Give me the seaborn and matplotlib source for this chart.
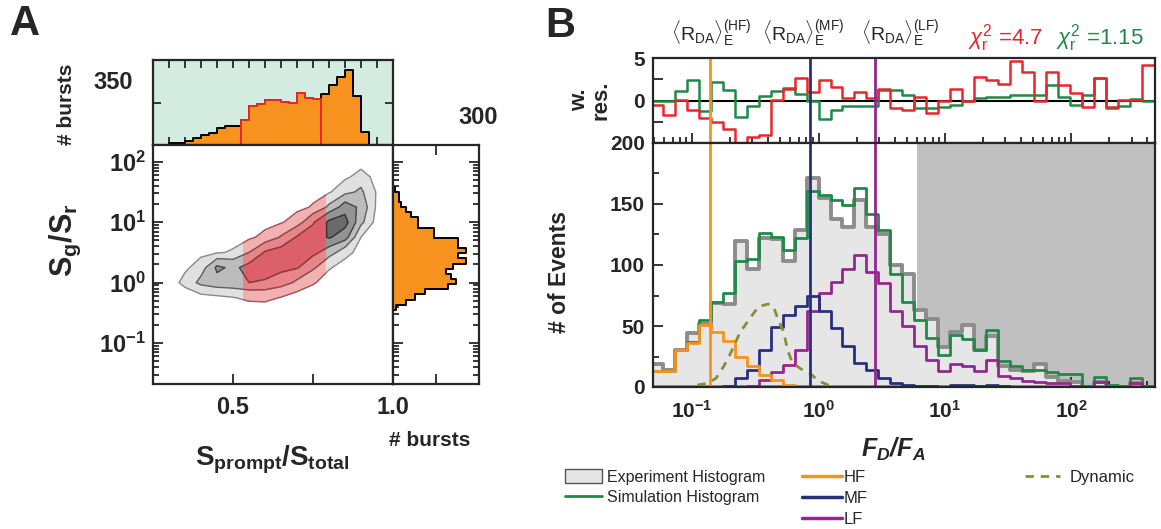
import numpy as np
import matplotlib
matplotlib.use('Agg')
import matplotlib.pyplot as plt
from matplotlib.lines import Line2D
from matplotlib.patches import Patch, Rectangle
from matplotlib.ticker import LogLocator, NullFormatter, FixedLocator, MultipleLocator
import seaborn as sns

sns.set_style('ticks')
plt.rcParams['font.family'] = ['Liberation Sans', 'DejaVu Sans']
plt.rcParams['mathtext.fontset'] = 'custom'
plt.rcParams['mathtext.rm'] = 'Liberation Sans'
plt.rcParams['mathtext.it'] = 'Liberation Sans:italic'
plt.rcParams['mathtext.bf'] = 'Liberation Sans:bold'
plt.rcParams['mathtext.bfit'] = 'Liberation Sans:italic:bold'
plt.rcParams['axes.linewidth'] = 1.6

# ---------------- panel A data ----------------
# S_prompt/S_total histogram (top margin), 0.025 wide bins
sp_edges = np.round(np.arange(0.25, 1.0001, 0.025), 3)
sp_counts = [0, 0, 8, 8, 17, 33, 45, 56, 80, 88, 91, 119, 182, 193, 210,
             212, 203, 200, 243, 222, 218, 242, 283, 320, 353, 232, 60, 0, 0, 0]
sel_range = (0.525, 0.775)      # selected sub-population (red)
red_window = (0.53, 0.79)

# S_g/S_r histogram (right margin), log10 bin edges
sgsr_log_edges = np.linspace(-0.45, 1.59, 25)
sgsr_counts = [12, 45, 75, 110, 191, 220, 202, 185, 208, 255, 226, 255,
               226, 226, 144, 144, 86, 86, 63, 45, 28, 22, 22, 8]

# burst density (rows: log10 Sg/Sr, cols: Sprompt/Stotal)
grid_sx = [0.30, 0.35, 0.40, 0.45, 0.50, 0.55, 0.60, 0.65, 0.70, 0.75, 0.80, 0.85, 0.90, 0.95]
grid_ly = [-0.5, -0.25, 0.0, 0.25, 0.5, 0.75, 1.0, 1.25, 1.5, 1.75, 2.0]
density_rows = [
    [0, 0, 0, 0, 0, 0, 0, 0, 0, 0, 0, 0, 0, 0],
    [0, 0, 0.2, 0.3, 0.45, 0.7, 0.75, 0.45, 0.1, 0, 0, 0, 0, 0],
    [0, 0.8, 1.8, 2.2, 2.3, 2.5, 2.4, 2.0, 1.3, 0.6, 0.1, 0, 0, 0],
    [0, 0.3, 1.0, 2.7, 2.3, 2.8, 3.0, 2.8, 2.6, 1.7, 0.6, 0.1, 0, 0],
    [0, 0, 0.2, 0.4, 0.6, 1.5, 2.6, 2.9, 3.0, 2.8, 2.0, 0.9, 0.1, 0],
    [0, 0, 0, 0, 0.1, 0.3, 0.8, 1.6, 2.6, 2.9, 3.6, 3.0, 0.5, 0],
    [0, 0, 0, 0, 0, 0, 0.1, 0.4, 1.0, 2.4, 3.7, 3.9, 1.8, 0.1],
    [0, 0, 0, 0, 0, 0, 0, 0, 0.2, 0.6, 1.7, 3.0, 2.3, 0.3],
    [0, 0, 0, 0, 0, 0, 0, 0, 0, 0.1, 0.4, 1.2, 1.7, 0.4],
    [0, 0, 0, 0, 0, 0, 0, 0, 0, 0, 0, 0.3, 0.9, 0.2],
    [0, 0, 0, 0, 0, 0, 0, 0, 0, 0, 0, 0, 0, 0],
]
dens_levels = [0.5, 1.5, 2.5, 3.5, 5]

# ---------------- panel B data ----------------
fd_log_edges = np.linspace(-1.328, 2.656, 43)   # 42 log bins of F_D/F_A
exp_counts = [19, 14, 30, 44, 52, 69, 68, 120, 97, 122, 121, 103, 129, 171,
              155, 138, 131, 153, 131, 125, 100, 93, 63, 56, 33, 45, 51, 30,
              42, 17, 14, 13, 19, 8, 5, 4, 0, 4, 1, 0, 3, 0]
sim_counts = [13, 13, 30, 37, 55, 70, 77, 103, 105, 126, 123, 112, 122, 161,
              157, 153, 149, 163, 142, 129, 93, 70, 55, 40, 26, 43, 39, 30,
              47, 21, 17, 14, 14, 12, 11, 11, 1, 8, 2, 1, 7, 1]
hf_counts = [13, 13, 30, 36, 51, 45, 38, 25, 17, 10, 6, 2, 0, 0, 0, 0, 0, 0,
             0, 0, 0, 0, 0, 0, 0, 0, 0, 0, 0, 0, 0, 0, 0, 0, 0, 0, 0, 0, 0, 0, 0, 0]
mf_counts = [0, 0, 0, 0, 0, 0, 1, 7, 14, 30, 49, 59, 66, 75, 62, 48, 34, 20,
             14, 7, 3, 2, 1, 1, 0, 2, 2, 1, 2, 1, 0, 0, 0, 0, 0, 0, 0, 0, 0, 0, 0, 0]
lf_counts = [0, 0, 0, 0, 0, 0, 0, 0, 1, 6, 12, 18, 30, 62, 77, 86, 97, 108,
             94, 85, 62, 50, 34, 22, 13, 19, 17, 13, 22, 9, 7, 5, 4, 3, 3, 1,
             0, 4, 0, 0, 3, 0]
res_red = [-0.5, -1.7, 0.06, -1.1, -2.1, -2.5, -3.3, -6.5, -4.3, -4.1,
           0.06, 1.4, 2.6, 1.0, 2.4, 1.6, 0.26, 1.0, 0.26, 1.4,
           -0.9, -1.1, 0.45, -1.5, 0.0, 1.4, 0.0, 2.8, 2.4, 2.0,
           4.7, 3.4, 0.0, 3.4, 1.8, 0.9, -0.8, 2.6, -0.8, 0.1, 0.1, 4.2]
res_green = [0, 0, 1.15, 2.4, -1.2, 2.2, 1.24, -1.9, -0.65, 0.5,
             1.15, 1.43, 0.76, -0.1, -2.2, -1.1, -0.7, -0.6, -0.6, 1.2,
             1.2, 0.65, -0.9, -0.9, -0.8, -0.5, -0.1, 0.3, 0.45, 0.45,
             0.65, 0.65, 0.65, 1.8, 0.4, -0.5, 0.6, 2.7, -0.9, -0.7, 0.2, 0.0]
dyn_x = [0.11, 0.13, 0.154, 0.178, 0.20, 0.24, 0.29, 0.335, 0.40, 0.44,
         0.48, 0.53, 0.57, 0.62, 0.72, 0.86, 1.0, 1.3]
dyn_y = [1.6, 3, 7, 17, 27, 45, 57, 66, 68, 66, 55, 45, 30, 20, 15, 11, 5, 0]
rda_pos = {'HF': 0.139, 'MF': 0.857, 'LF': 2.8}
shade_start = 6.0
chi_red, chi_green = '4.7', '1.15'

# colours
ORANGE = '#f7921e'
NAVY = '#28307e'
PURPLE = '#93278f'
GREEN = '#1f8a47'
RED = '#e8262c'
OLIVE = '#8a8c3a'
EXP_FILL = '#e6e6e6'
EXP_EDGE = '#8c8c8c'

W, H = 1161, 529


def fx(px):
    return px / W


def fy(py):
    return 1 - py / H


def box(x0, y0, x1, y1):
    return [fx(x0), fy(y1), (x1 - x0) / W, (y1 - y0) / H]


def bold_labels(labels):
    return [r'$\mathbf{%s}$' % s if s else '' for s in labels]


fig = plt.figure(figsize=(W / 100, H / 100), dpi=100)
ax_top = fig.add_axes(box(153, 60, 393, 145))
ax_2d = fig.add_axes(box(153, 145, 393, 384))
ax_side = fig.add_axes(box(393, 145, 479, 384))
ax_res = fig.add_axes(box(653, 58, 1155, 143))
ax_b = fig.add_axes(box(653, 143, 1155, 387))

# ---------- A: top histogram ----------
sp_centers = (sp_edges[:-1] + sp_edges[1:]) / 2
sns.histplot(x=sp_centers, weights=sp_counts, bins=list(sp_edges), element='step',
             fill=True, color=ORANGE, edgecolor='black', linewidth=1.4, alpha=1, ax=ax_top)
sel = (sp_edges[:-1] >= sel_range[0] - 1e-9) & (sp_edges[1:] <= sel_range[1] + 1e-9)
sel_edges = sp_edges[np.r_[sel, False] | np.r_[False, sel]]
sns.histplot(x=sp_centers[sel], weights=np.array(sp_counts)[sel], bins=list(sel_edges),
             element='step', fill=True, color=ORANGE, edgecolor=RED, linewidth=1.4,
             alpha=1, ax=ax_top)
ax_top.set_facecolor('#d4ebdf')
ax_top.set_xlim(0.25, 1.0)
ax_top.set_ylim(0, 400)
ax_top.set_xlabel('')
ax_top.set_ylabel('')
ax_top.xaxis.set_major_locator(MultipleLocator(0.05))
ax_top.yaxis.set_major_locator(FixedLocator([200]))
ax_top.tick_params(which='both', direction='in', top=True, right=True, length=6,
                   width=1.3, labelbottom=False, labelleft=False)

# ---------- A: 2D density ----------
SX, LY = np.meshgrid(grid_sx, grid_ly)
SG = 10 ** LY
Z = np.array(density_rows)
ax_2d.set_yscale('log')
ax_2d.contourf(SX, SG, Z, levels=dens_levels,
               colors=['#e0e0e0', '#bcbcbc', '#939393', '#6a6a6a'])
ax_2d.contour(SX, SG, Z, levels=dens_levels[:-1],
              colors=['#8a8a8a', '#606060', '#454545', '#333333'], linewidths=1.0)
clip = Rectangle((red_window[0], 1e-4), red_window[1] - red_window[0], 1e6,
                 transform=ax_2d.transData)
cr = ax_2d.contourf(SX, SG, Z, levels=dens_levels,
                    colors=['#f6a9a9', '#f07c80', '#e85862', '#d83846'], alpha=0.85)
cr.set_clip_path(clip)
crl = ax_2d.contour(SX, SG, Z, levels=dens_levels[:-1], colors='#c8303c',
                    linewidths=0.8, alpha=0.7)
crl.set_clip_path(clip)
ax_2d.set_xlim(0.25, 1.0)
ax_2d.set_ylim(0.021, 190)
ax_2d.xaxis.set_major_locator(FixedLocator([0.25, 0.5, 0.75, 1.0]))
ax_2d.set_xticklabels(['', '0.5', '', '1.0'], fontweight='bold')
ax_2d.yaxis.set_major_locator(FixedLocator([0.1, 1, 10, 100]))
ax_2d.set_yticklabels(bold_labels(['10^{-1}', '10^{0}', '10^{1}', '10^{2}']))
ax_2d.yaxis.set_minor_locator(LogLocator(base=10, subs=np.arange(2, 10) * 1.0, numticks=20))
ax_2d.yaxis.set_minor_formatter(NullFormatter())
ax_2d.tick_params(which='both', direction='in', width=1.3, labelsize=17)
ax_2d.tick_params(which='major', length=7)
ax_2d.tick_params(which='minor', length=4)
ax_2d.tick_params(axis='x', pad=9)
ax_2d.tick_params(axis='y', pad=5)

# ---------- A: right histogram ----------
sgsr_edges = 10 ** np.array(sgsr_log_edges)
sgsr_centers = np.sqrt(sgsr_edges[:-1] * sgsr_edges[1:])
sns.histplot(y=sgsr_centers, weights=sgsr_counts, bins=list(sgsr_edges), element='step',
             fill=True, color=ORANGE, edgecolor='black', linewidth=1.4, alpha=1, ax=ax_side)
ax_side.set_yscale('log')
ax_side.set_ylim(0.021, 190)
ax_side.set_xlim(0, 300)
ax_side.set_xlabel('')
ax_side.set_ylabel('')
ax_side.xaxis.set_major_locator(FixedLocator([150]))
ax_side.yaxis.set_major_locator(FixedLocator([0.1, 1, 10, 100]))
ax_side.yaxis.set_minor_locator(LogLocator(base=10, subs=np.arange(2, 10) * 1.0, numticks=20))
ax_side.yaxis.set_minor_formatter(NullFormatter())
ax_side.tick_params(which='both', direction='in', top=True, right=True, left=True,
                    width=1.3, labelbottom=False, labelleft=False)
ax_side.tick_params(which='major', length=7)
ax_side.tick_params(which='minor', length=4)

# ---------- B: residuals ----------
fd_edges = 10 ** fd_log_edges
fd_centers = np.sqrt(fd_edges[:-1] * fd_edges[1:])
sns.lineplot(x=fd_edges, y=res_green + [res_green[-1]], drawstyle='steps-post',
             color=GREEN, linewidth=1.8, errorbar=None, ax=ax_res)
sns.lineplot(x=fd_edges, y=res_red + [res_red[-1]], drawstyle='steps-post',
             color=RED, linewidth=1.8, errorbar=None, ax=ax_res)
ax_res.axhline(0, color='black', linewidth=1.5, zorder=1)
ax_res.set_xscale('log')
ax_res.set_xlim(0.049, 460)
ax_res.set_ylim(-5, 5)
ax_res.set_xlabel('')
ax_res.set_ylabel('')
ax_res.yaxis.set_major_locator(FixedLocator([-5, -2.5, 0, 2.5, 5]))
ax_res.set_yticklabels(['', '', '0', '', '5'], fontweight='bold')
ax_res.xaxis.set_major_locator(LogLocator(base=10, numticks=10))
ax_res.xaxis.set_minor_locator(LogLocator(base=10, subs=np.arange(2, 10) * 1.0, numticks=20))
ax_res.xaxis.set_minor_formatter(NullFormatter())
ax_res.tick_params(which='both', direction='in', width=1.3, labelbottom=False,
                   labelsize=15, pad=6)
ax_res.tick_params(which='major', length=7)
ax_res.tick_params(which='minor', length=4)

# ---------- B: histograms ----------
ax_b.axvspan(shade_start, 1000, color='#c0c0c0', zorder=0, linewidth=0)
sns.histplot(x=fd_centers, weights=exp_counts, bins=list(fd_edges), element='step', fill=True,
             color=EXP_FILL, edgecolor=EXP_EDGE, linewidth=2.8, alpha=1, ax=ax_b, zorder=1)
for counts, col in [(sim_counts, GREEN), (lf_counts, PURPLE), (mf_counts, NAVY),
                    (hf_counts, ORANGE)]:
    sns.histplot(x=fd_centers, weights=counts, bins=list(fd_edges), element='step',
                 fill=False, color=col, linewidth=2.0, ax=ax_b, zorder=2)
sns.lineplot(x=dyn_x, y=dyn_y, color=OLIVE, linewidth=2.0, linestyle=(0, (3, 2.5)),
             errorbar=None, ax=ax_b, zorder=2)
for (name, pos), col in zip(rda_pos.items(), [ORANGE, NAVY, PURPLE]):
    ax_b.axvline(pos, color=col, linewidth=2.0, zorder=3)
    ax_res.axvline(pos, color=col, linewidth=2.0, zorder=3)
ax_b.set_xscale('log')
ax_b.set_xlim(0.049, 460)
ax_b.set_ylim(0, 200)
ax_b.set_xlabel('')
ax_b.set_ylabel('')
ax_b.yaxis.set_major_locator(FixedLocator([0, 50, 100, 150, 200]))
ax_b.yaxis.set_minor_locator(MultipleLocator(25))
ax_b.set_yticklabels(['0', '50', '100', '150', '200'], fontweight='bold')
ax_b.xaxis.set_major_locator(FixedLocator([0.1, 1, 10, 100]))
ax_b.set_xticklabels(bold_labels(['10^{-1}', '10^{0}', '10^{1}', '10^{2}']))
ax_b.xaxis.set_minor_locator(LogLocator(base=10, subs=np.arange(2, 10) * 1.0, numticks=20))
ax_b.xaxis.set_minor_formatter(NullFormatter())
ax_b.tick_params(which='both', direction='in', width=1.3, labelsize=15)
ax_b.tick_params(which='major', length=7)
ax_b.tick_params(which='minor', length=4)
ax_b.tick_params(axis='x', pad=9)
ax_b.tick_params(axis='y', pad=6)
for ax in [ax_top, ax_2d, ax_side, ax_res, ax_b]:
    for sp in ax.spines.values():
        sp.set_linewidth(1.6)
        sp.set_zorder(5)

# ---------- text ----------
fig.text(fx(25), fy(24), 'A', fontsize=30, fontweight='bold', ha='center', va='center')
fig.text(fx(560), fy(26), 'B', fontsize=30, fontweight='bold', ha='center', va='center')
fig.text(fx(65), fy(240), r'$\mathbf{S_g/S_r}$', fontsize=22, rotation=90,
         ha='center', va='center')
fig.text(fx(272), fy(460), r'$\mathbf{S_{prompt}/S_{total}}$', fontsize=20,
         ha='center', va='center')
fig.text(fx(67), fy(104), '# bursts', fontsize=15, fontweight='bold', rotation=90,
         ha='center', va='center')
fig.text(fx(113), fy(83), '350', fontsize=17, fontweight='bold', ha='center', va='center')
fig.text(fx(478), fy(117), '300', fontsize=17, fontweight='bold', ha='center', va='center')
fig.text(fx(430), fy(440), '# bursts', fontsize=15, fontweight='bold', ha='center',
         va='center')
fig.text(fx(560), fy(272), '# of Events', fontsize=16.5, fontweight='bold', rotation=90,
         ha='center', va='center')
fig.text(fx(590), fy(100), 'w.\nres.', fontsize=16, fontweight='bold', rotation=90,
         ha='center', va='center', linespacing=1.0)
fig.text(fx(893), fy(449), r'$\mathbfit{F_D/F_A}$', fontsize=18, ha='center', va='center')
for (name, pos), cx in zip(rda_pos.items(), [711, 803, 900]):
    fig.text(fx(cx), fy(34),
             r'$\langle \mathrm{R}_{\mathrm{DA}}\rangle_{\mathrm{E}}^{(\mathrm{%s})}$' % name,
             fontsize=14, ha='center', va='center')
fig.text(fx(1005), fy(38), r'$\chi_{\mathrm{r}}^{2}$ =' + chi_red, fontsize=16,
         color=RED, ha='center', va='center')
fig.text(fx(1100), fy(38), r'$\chi_{\mathrm{r}}^{2}$ =' + chi_green, fontsize=16,
         color=GREEN, ha='center', va='center')

# ---------- legend ----------
leg_kw = dict(loc='upper left', frameon=False, borderaxespad=0, borderpad=0,
              labelspacing=0.3)
fig.legend([Patch(facecolor=EXP_FILL, edgecolor='#555555', linewidth=1.0),
            Line2D([], [], color=GREEN, linewidth=2)],
           ['Experiment Histogram', 'Simulation Histogram'],
           bbox_to_anchor=(fx(565), fy(469)), fontsize=11.5, handlelength=2.3,
           handleheight=1.0, handletextpad=0.3, **leg_kw)
fig.legend([Line2D([], [], color=ORANGE, linewidth=2.5),
            Line2D([], [], color=NAVY, linewidth=2.5),
            Line2D([], [], color=PURPLE, linewidth=2.5)],
           ['HF', 'MF', 'LF'], bbox_to_anchor=(fx(802), fy(469)), fontsize=12,
           handlelength=2.4, handleheight=1.0, handletextpad=0.08, **leg_kw)
fig.legend([Line2D([], [], color=OLIVE, linewidth=2, linestyle=(0, (3, 2.5)))],
           ['Dynamic'], bbox_to_anchor=(fx(1025), fy(469)), fontsize=12,
           handlelength=2.1, handleheight=1.0, handletextpad=0.6, **leg_kw)

fig.savefig('out.png', dpi=100)
